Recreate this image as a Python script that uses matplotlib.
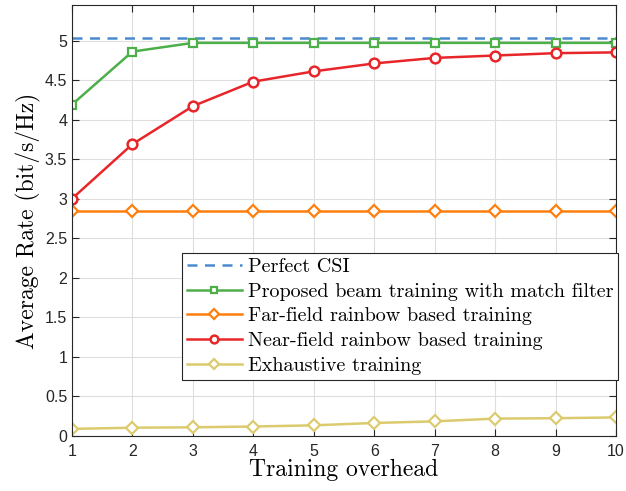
import matplotlib
matplotlib.use("Agg")
import matplotlib.pyplot as plt

x = [1, 2, 3, 4, 5, 6, 7, 8, 9, 10]
perfect_csi = [5.03] * 10
proposed = [4.19, 4.86, 4.97, 4.97, 4.97, 4.97, 4.97, 4.97, 4.97, 4.97]
far_field = [2.85] * 10
near_field = [3.00, 3.69, 4.17, 4.48, 4.61, 4.71, 4.78, 4.81, 4.84, 4.85]
exhaustive = [0.09, 0.105, 0.11, 0.12, 0.135, 0.165, 0.185, 0.22, 0.225, 0.235]

fig = plt.figure(figsize=(6.26, 4.91), dpi=100)
ax = fig.add_axes([0.115, 0.112, 0.869, 0.878])

lw = 1.8
ax.plot(x, perfect_csi, "--", color="#4a8bd0", lw=lw, dashes=(4, 3), label="Perfect CSI")
ax.plot(x, proposed, "-s", color="#4daf4a", lw=lw, ms=6, mfc="white", mew=1.6,
        label="Proposed beam training with match filter")
ax.plot(x, far_field, "-D", color="#ff7f0e", lw=lw, ms=6, mfc="white", mew=1.6,
        label="Far-field rainbow based training")
ax.plot(x, near_field, "-o", color="#e8262a", lw=lw, ms=7, mfc="white", mew=1.8,
        label="Near-field rainbow based training")
ax.plot(x, exhaustive, "-D", color="#dccb6e", lw=lw, ms=6, mfc="white", mew=1.6,
        label="Exhaustive training")

ax.set_xlim(1, 10)
ax.set_ylim(0, 5.45)
ax.set_xticks(range(1, 11))
ax.set_yticks([0, 0.5, 1, 1.5, 2, 2.5, 3, 3.5, 4, 4.5, 5])
ax.set_yticklabels(["0", "0.5", "1", "1.5", "2", "2.5", "3", "3.5", "4", "4.5", "5"])
ax.tick_params(direction="in", top=True, right=True, labelsize=11.5, colors="#262626",
               length=5)
ax.tick_params(axis="x", pad=6)
for lab in ax.get_xticklabels() + ax.get_yticklabels():
    lab.set_fontfamily("Liberation Sans")
ax.grid(True, color="#dedede", lw=0.8)
for s in ax.spines.values():
    s.set_color("#262626")
    s.set_linewidth(0.8)

ax.set_xlabel("Training overhead", fontfamily="cmr10", fontsize=17, labelpad=0)
ax.set_ylabel("Average Rate (bit/s/Hz)", fontfamily="cmr10", fontsize=17, labelpad=3)

leg = ax.legend(loc="lower right", bbox_to_anchor=(1.004, 0.13), prop={"family": "cmr10", "size": 14.5},
                fancybox=False, edgecolor="#262626", framealpha=1, handlelength=2.7,
                borderpad=0.25, labelspacing=0.33, handletextpad=0.3, borderaxespad=0,
                markerscale=0.8)
leg.get_frame().set_linewidth(0.8)

fig.savefig("out.png", dpi=100)
